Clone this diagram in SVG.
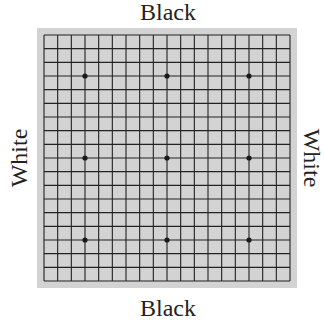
<svg xmlns="http://www.w3.org/2000/svg" width="325" height="320" viewBox="0 0 325 320">
<style>
.lbl{font-family:"Liberation Serif","Times New Roman",serif;font-size:24px;fill:#222;text-anchor:middle}
.grid{stroke:#222;stroke-width:1.1;fill:none}
.star{fill:#1a1a1a}
</style>
<rect width="325" height="320" fill="#fff"/>
<g id="board">
<rect x="37" y="28" width="260" height="260" fill="#d3d3d3"/>
<path class="grid" d="M44 35V281M57.67 35V281M71.33 35V281M85 35V281M98.67 35V281M112.33 35V281M126 35V281M139.67 35V281M153.33 35V281M167 35V281M180.67 35V281M194.33 35V281M208 35V281M221.67 35V281M235.33 35V281M249 35V281M262.67 35V281M276.33 35V281M290 35V281M44 35H290M44 48.67H290M44 62.33H290M44 76H290M44 89.67H290M44 103.33H290M44 117H290M44 130.67H290M44 144.33H290M44 158H290M44 171.67H290M44 185.33H290M44 199H290M44 212.67H290M44 226.33H290M44 240H290M44 253.67H290M44 267.33H290M44 281H290"/>
<circle class="star" cx="85" cy="76" r="2.6"/>
<circle class="star" cx="167" cy="76" r="2.6"/>
<circle class="star" cx="249" cy="76" r="2.6"/>
<circle class="star" cx="85" cy="158" r="2.6"/>
<circle class="star" cx="167" cy="158" r="2.6"/>
<circle class="star" cx="249" cy="158" r="2.6"/>
<circle class="star" cx="85" cy="240" r="2.6"/>
<circle class="star" cx="167" cy="240" r="2.6"/>
<circle class="star" cx="249" cy="240" r="2.6"/>
</g>
<g id="labels">
<text class="lbl" x="168" y="20">Black</text>
<text class="lbl" x="168" y="316">Black</text>
<text class="lbl" transform="translate(27 158) rotate(-90)">White</text>
<text class="lbl" transform="translate(304 158) rotate(90)">White</text>
</g>
</svg>
